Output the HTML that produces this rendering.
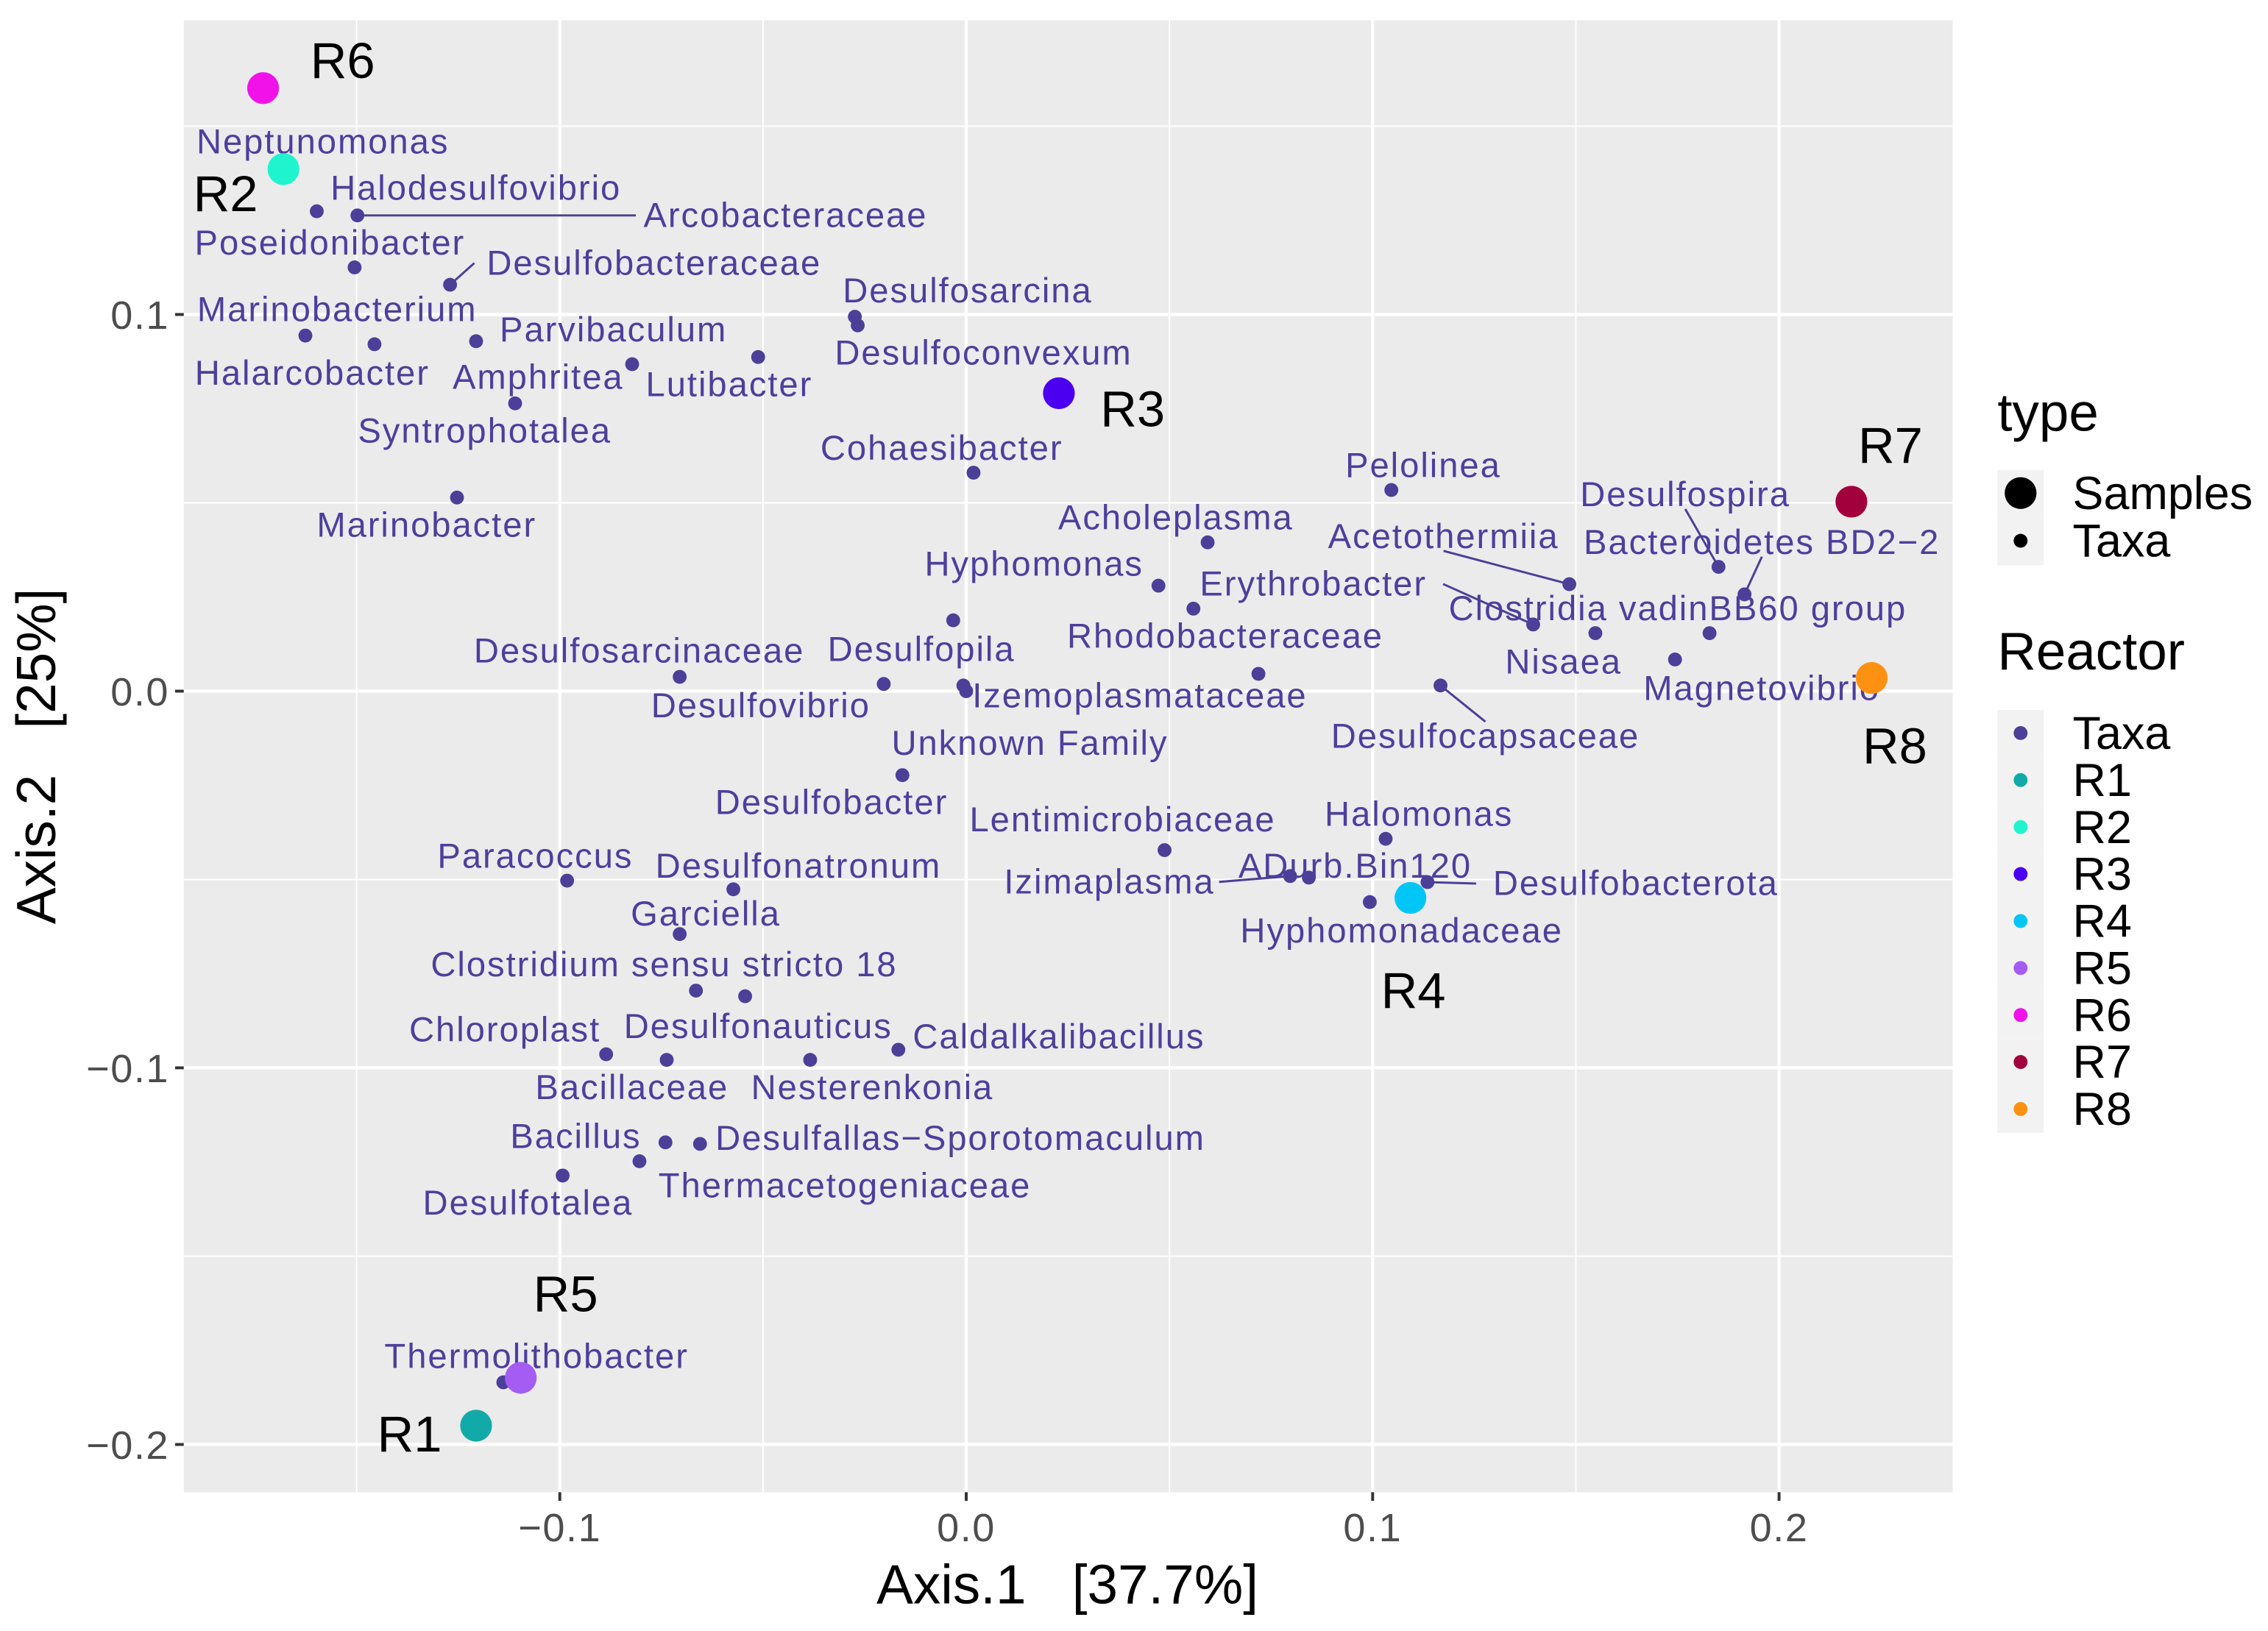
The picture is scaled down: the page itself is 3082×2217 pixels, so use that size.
<!DOCTYPE html>
<html><head><meta charset="utf-8"><style>
html,body{margin:0;padding:0;background:#fff;}
svg{display:block;}
text{font-family:"Liberation Sans",Arial,sans-serif;white-space:pre;}
</style></head><body>
<svg id="chart" xmlns="http://www.w3.org/2000/svg" width="3082" height="2217" viewBox="0 0 1568 1128">
<rect x="0" y="0" width="1568" height="1128" fill="#ffffff"/>
<g id="panel"></g>
<g id="legend"></g>
</svg>
<script>
// ---- data ----
const taxaNames = ["Neptunomonas","Halodesulfovibrio","Arcobacteraceae","Poseidonibacter","Desulfobacteraceae","Marinobacterium","Halarcobacter","Parvibaculum","Amphritea","Lutibacter","Syntrophotalea","Marinobacter","Desulfosarcina","Desulfoconvexum","Cohaesibacter","Pelolinea","Acholeplasma","Hyphomonas","Rhodobacteraceae","Erythrobacter","Acetothermiia","Desulfospira","Bacteroidetes BD2\u22122","Clostridia vadinBB60 group","Nisaea","Magnetovibrio","Desulfocapsaceae","","Desulfopila","Desulfosarcinaceae","Desulfovibrio","Izemoplasmataceae","Unknown Family","Desulfobacter","Lentimicrobiaceae","Halomonas","ADurb.Bin120","Izimaplasma","Desulfobacterota","Hyphomonadaceae","Paracoccus","Desulfonatronum","Garciella","Clostridium sensu stricto 18","Chloroplast","Desulfonauticus","Bacillaceae","Caldalkalibacillus","Nesterenkonia","Bacillus","Desulfallas\u2212Sporotomaculum","Thermacetogeniaceae","Desulfotalea","Thermolithobacter"];
const taxaX = [-0.1665,-0.1598,-0.1498,-0.1505,-0.1270,-0.1626,-0.1456,-0.1206,-0.0822,-0.0512,-0.1110,-0.1253,-0.0274,-0.0267,0.0018,0.1046,0.0594,0.0473,0.0559,0.1395,0.1484,0.1851,0.1915,0.1829,0.1548,0.1744,0.1167,0.0719,-0.0032,-0.0705,-0.0203,-0.0007,0.0000,-0.0157,0.0488,0.1032,0.0843,0.0797,0.1135,0.0993,-0.0982,-0.0573,-0.0705,-0.0665,-0.0886,-0.0544,-0.0737,-0.0167,-0.0384,-0.0740,-0.0655,-0.0804,-0.0993,-0.1139];
const taxaY = [0.1382,0.1274,0.1263,0.1125,0.1079,0.0944,0.0921,0.0929,0.0868,0.0887,0.0764,0.0514,0.0994,0.0971,0.0580,0.0534,0.0395,0.0280,0.0219,0.0177,0.0284,0.0330,0.0257,0.0154,0.0154,0.0084,0.0015,0.0046,0.0188,0.0038,0.0019,0.0015,0.0000,-0.0223,-0.0422,-0.0392,-0.0495,-0.0491,-0.0507,-0.0560,-0.0503,-0.0526,-0.0645,-0.0795,-0.0964,-0.0810,-0.0979,-0.0952,-0.0979,-0.1198,-0.1202,-0.1248,-0.1286,-0.1835];
const sampleNames = ["R1","R2","R3","R4","R5","R6","R7","R8"];
const sampleX = [-0.1206,-0.1680,0.0228,0.1093,-0.1096,-0.1730,0.2178,0.2228];
const sampleY = [-0.1950,0.1386,0.0791,-0.0549,-0.1823,0.1601,0.0503,0.0035];
const xTicks = [-0.1,0.0,0.1,0.2];
const xTickLabels = ["\u22120.1","0.0","0.1","0.2"];
const yTicks = [-0.2,-0.1,0.0,0.1];
const yTickLabels = ["\u22120.2","\u22120.1","0.0","0.1"];
const xMinor = [-0.15,-0.05,0.05,0.15];
const yMinor = [-0.15,-0.05,0.05,0.15];
// ---- layout (label offsets in px, segment flags) ----
const labelDX = [23,110,296,-17,141,22,-43,95,-65,-20,-21,-21,78,87,-22,22,-22,-86,22,-152,-87,-23,12,-22,-22,60,31,0,-22,-28,-85,122,44,-49,-29,23,32,-125,144,22,-22,45,18,-22,-70,9,-24,111,43,-62,180,142,-24,23];
const labelDY = [-20,-16,0,-17,-15,-18,20,-8,9,19,19,19,-18,19,-17,-17,-17,-15,19,-28,-33,-50,-36,-17,20,20,35,0,20,-18,15,7,36,19,-21,-17,-8,4,1,20,-17,-16,-14,-18,-17,21,19,-9,19,-4,-4,17,19,-18];
const labelSeg = [0,0,1,0,1,0,0,0,0,0,0,0,0,0,0,0,0,0,0,1,1,1,1,0,0,0,1,0,0,0,0,1,0,0,0,0,0,1,1,0,0,0,0,0,0,0,0,0,0,0,0,0,0,0];
const sampleDX = [-46,-40,51,2,31,55,27,16];
const sampleDY = [6,17,11,64,-58,-19,-39,47];
const sampleColors = ["#12aaa8","#1ef5cf","#4b00ef","#00c6f5","#a45cf2","#f112ea","#a1003d","#ff9112"];
const taxaColor = "#4b3f98";

const NS="http://www.w3.org/2000/svg";
const PL=127, PR=1350, PT=14, PB=1032;
const xS = v => 668 + v*2810;
const yS = v => 478 - v*2605;
function mk(tag, attrs, parent, txt){
  const e=document.createElementNS(NS,tag);
  for(const k in attrs) e.setAttribute(k,attrs[k]);
  if(txt!==undefined) e.textContent=txt;
  parent.appendChild(e); return e;
}
const panel=document.getElementById('panel');
const bg=mk('rect',{x:PL,y:PT,width:PR-PL,height:PB-PT,fill:'#ebebeb'},panel);


xMinor.forEach(v=>{const l=mk('line',{x1:xS(v),x2:xS(v),y1:PT,y2:PB,stroke:'#fff','stroke-width':1},panel);

});
yMinor.forEach(v=>{const l=mk('line',{y1:yS(v),y2:yS(v),x1:PL,x2:PR,stroke:'#fff','stroke-width':1},panel);

});
xTicks.forEach((v,i)=>{const l=mk('line',{x1:xS(v),x2:xS(v),y1:PT,y2:PB,stroke:'#fff','stroke-width':2.2},panel);


const t=mk('line',{x1:xS(v),x2:xS(v),y1:PB,y2:PB+6,stroke:'#333','stroke-width':2},panel);


const tl=mk('text',{x:xS(v),y:PB+34,'text-anchor':'middle','font-size':27.5,'letter-spacing':0.8,fill:'#4d4d4d'},panel,xTickLabels[i]);

});
yTicks.forEach((v,i)=>{const l=mk('line',{y1:yS(v),y2:yS(v),x1:PL,x2:PR,stroke:'#fff','stroke-width':2.2},panel);


const t=mk('line',{y1:yS(v),y2:yS(v),x1:PL-6,x2:PL,stroke:'#333','stroke-width':2},panel);


const tl=mk('text',{x:PL-10,y:yS(v)+10,'text-anchor':'end','font-size':27.5,'letter-spacing':0.8,fill:'#4d4d4d'},panel,yTickLabels[i]);

});
// taxa
taxaNames.forEach((n,i)=>{
  const px=xS(taxaX[i]), py=yS(taxaY[i]);
  const lx=px+labelDX[i], ly=py+labelDY[i];
  if(n && labelSeg[i]){
    const tw=n.length*6.9;
    const ex = labelDX[i]>0 ? lx-tw : (labelDX[i]<0 ? lx+tw : lx);
    const s=mk('line',{x1:px,y1:py,x2:Math.abs(labelDX[i])>tw?ex:lx,y2:Math.abs(labelDX[i])>tw?ly:ly+(labelDY[i]<0?10:-10),stroke:taxaColor,'stroke-width':1.5},panel);
    
    
  }
  const c=mk('circle',{cx:px,cy:py,r:4.8,fill:taxaColor},panel);
  
  
  if(n){
    const t=mk('text',{x:lx,y:ly+8,'text-anchor':'middle','font-size':24,'letter-spacing':1,fill:'#4d3f9c'},panel,n);
    
    
  }
});
// samples
sampleNames.forEach((n,i)=>{
  const px=xS(sampleX[i]), py=yS(sampleY[i]);
  const c=mk('circle',{cx:px,cy:py,r:11,fill:sampleColors[i]},panel);
  
  
  const t=mk('text',{x:px+sampleDX[i],y:py+sampleDY[i]+12,'text-anchor':'middle','font-size':35,fill:'#000','font-family':'DejaVu Sans, sans-serif'},panel,n);
  
  
});
const xt=mk('text',{x:738,y:1109,'text-anchor':'middle','font-size':38,fill:'#000'},panel,"Axis.1   [37.7%]");


const yt=mk('text',{x:0,y:0,'text-anchor':'middle','font-size':38,fill:'#000',transform:'translate(38,523) rotate(-90)'},panel,"Axis.2   [25%]");


// legend
const leg=document.getElementById('legend');
const t1=mk('text',{x:1381,y:298,'font-size':37,fill:'#000'},leg,"type");


[["Samples",341,11],["Taxa",374,4.8]].forEach(([lab,y,r])=>{
  const k=mk('rect',{x:1381,y:y-16,width:32,height:33,fill:'#f2f2f2'},leg);
  
  
  const c=mk('circle',{cx:1397,cy:y,r:r,fill:'#000'},leg);
  
  
  const t=mk('text',{x:1433,y:y+11,'font-size':32,fill:'#000'},leg,lab);
  
  
});
const t2=mk('text',{x:1381,y:463,'font-size':37,fill:'#000'},leg,"Reactor");


const reactorLabels=["Taxa"].concat(sampleNames);
const reactorColors=[taxaColor].concat(sampleColors);
reactorLabels.forEach((lab,i)=>{
  const y=507+i*32.5;
  const k=mk('rect',{x:1381,y:y-16,width:32,height:32.5,fill:'#f2f2f2'},leg);
  
  
  const c=mk('circle',{cx:1397,cy:y,r:4.8,fill:reactorColors[i]},leg);
  
  
  const t=mk('text',{x:1433,y:y+11,'font-size':32,fill:'#000'},leg,lab);
  
  
});
</script>
</body></html>
